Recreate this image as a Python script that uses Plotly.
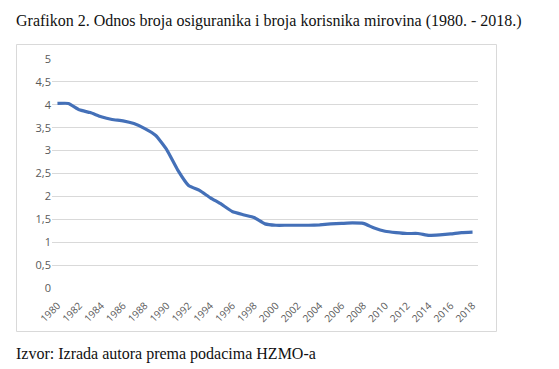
import plotly.graph_objects as go

years = list(range(1980, 2019))
ratio = [4.03, 4.03, 3.89, 3.83, 3.74, 3.68, 3.65, 3.59, 3.48, 3.33,
         3.02, 2.58, 2.24, 2.13, 1.97, 1.83, 1.67, 1.60, 1.54, 1.40,
         1.37, 1.37, 1.37, 1.37, 1.38, 1.40, 1.41, 1.42, 1.41, 1.31,
         1.24, 1.21, 1.19, 1.19, 1.15, 1.16, 1.18, 1.21, 1.22]
tick_years = list(range(1980, 2019, 2))
y_ticks = [0, 0.5, 1, 1.5, 2, 2.5, 3, 3.5, 4, 4.5, 5]

title_text = "Grafikon 2. Odnos broja osiguranika i broja korisnika mirovina (1980. - 2018.)"
source_text = "Izvor: Izrada autora prema podacima HZMO-a"

fig = go.Figure()
fig.add_trace(go.Scatter(
    x=years, y=ratio, mode="lines",
    line=dict(color="#4470B8", width=3.2, shape="spline", smoothing=0.4),
    hoverinfo="x+y", showlegend=False,
))

W, H = 559, 369
l, r, t, b = 52, 81, 59, 81
pw, ph = W - l - r, H - t - b

def px(xp):
    return (xp - l) / pw

def py(yp):
    return (H - b - yp) / ph

fig.update_layout(
    width=W, height=H,
    margin=dict(l=l, r=r, t=t, b=b, autoexpand=False),
    paper_bgcolor="white", plot_bgcolor="white",
    separators=",.",
    font=dict(family="Open Sans, Calibri, sans-serif", color="#595959", size=10),
    xaxis=dict(
        range=[1979.5, 2018.5], tickmode="array", tickvals=tick_years,
        ticktext=[str(v) for v in tick_years], tickangle=-45,
        showgrid=False, zeroline=False, showline=False, ticks="",
        ticklabelstandoff=9,
        tickfont=dict(size=10, color="#595959"), automargin=False,
    ),
    yaxis=dict(
        range=[0, 5], tickmode="array", tickvals=y_ticks,
        showgrid=True, gridcolor="#D9D9D9", gridwidth=1,
        zeroline=False, showline=False, ticks="", ticklen=0,
        tickfont=dict(size=11, color="#595959"), automargin=False,
    ),
    shapes=[dict(
        type="rect", xref="paper", yref="paper",
        x0=px(16.5), x1=px(496.5), y0=py(331.5), y1=py(44.5),
        line=dict(color="#D9D9D9", width=1), fillcolor="rgba(0,0,0,0)",
        layer="below",
    )],
    annotations=[
        dict(text=title_text, xref="paper", yref="paper",
             x=px(14), y=py(21), xanchor="left", yanchor="middle",
             showarrow=False,
             font=dict(family="Liberation Serif, Times New Roman, serif", size=16, color="#111111")),
        dict(text=source_text, xref="paper", yref="paper",
             x=px(14), y=py(354), xanchor="left", yanchor="middle",
             showarrow=False,
             font=dict(family="Liberation Serif, Times New Roman, serif", size=16, color="#111111")),
    ],
)

fig.write_html("out.html", config={"displayModeBar": False},
               post_script="document.body.style.margin='0';document.body.style.overflow='hidden';")
